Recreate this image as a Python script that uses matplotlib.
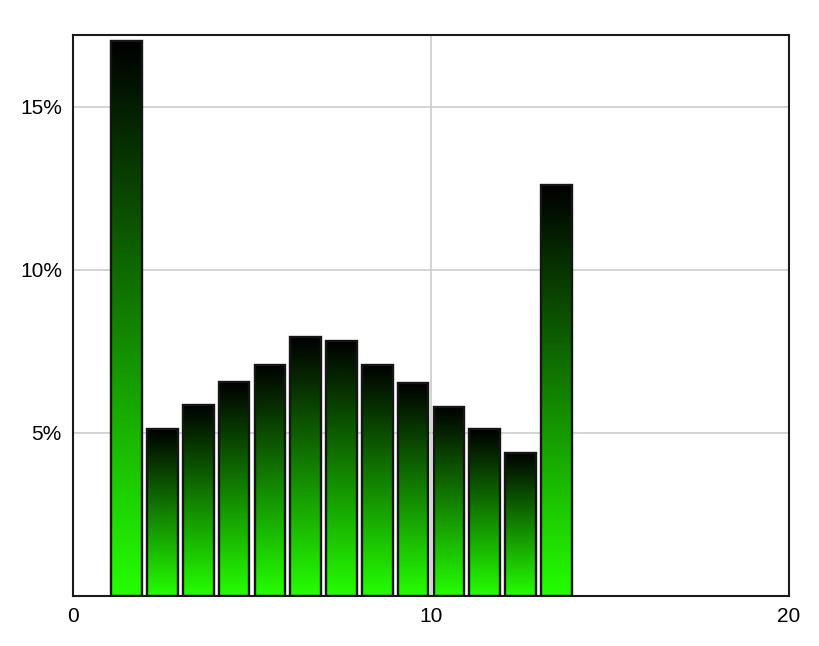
import matplotlib.pyplot as plt
import numpy as np
from matplotlib.colors import LinearSegmentedColormap

# bar centres and heights (%)
centres = [1.5, 2.5, 3.5, 4.5, 5.5, 6.5, 7.5, 8.5, 9.5, 10.5, 11.5, 12.5, 13.5]
heights = [17.02, 5.12, 5.86, 6.56, 7.09, 7.94, 7.82, 7.09, 6.53, 5.80, 5.12, 4.39, 12.6]
xticks = [0, 10, 20]
yticks = [5, 10, 15]
ytick_labels = ['5%', '10%', '15%']

plt.rcParams['font.family'] = ['Liberation Sans', 'DejaVu Sans']

fig = plt.figure(figsize=(8.2, 6.46), dpi=100)
ax = fig.add_axes([73 / 820, 1 - 596 / 646, (789 - 73) / 820, (596 - 35) / 646])

# gradient: bright green at the bottom of each bar, black at the top
cmap = LinearSegmentedColormap.from_list('g', ['#24ff00', '#000000'])
grad = np.linspace(0, 1, 256).reshape(-1, 1)
width = 0.85
for c, h in zip(centres, heights):
    ax.imshow(grad, cmap=cmap, origin='lower', aspect='auto',
              extent=(c - width / 2, c + width / 2, 0, h), zorder=2)
ax.bar(centres, heights, width=width, fill=False, edgecolor='#151515',
       linewidth=1.7, zorder=3)

ax.set_xlim(0, 20)
ax.set_ylim(0, 17.2)
ax.set_xticks(xticks)
ax.set_yticks(yticks)
ax.set_yticklabels(ytick_labels)
ax.tick_params(length=0, labelsize=15, pad=8)
ax.grid(True, color='#cccccc', linewidth=1.2, zorder=0)
ax.set_axisbelow(True)
for s in ax.spines.values():
    s.set_linewidth(1.5)
    s.set_color('#1a1a1a')

plt.savefig('out.png')
